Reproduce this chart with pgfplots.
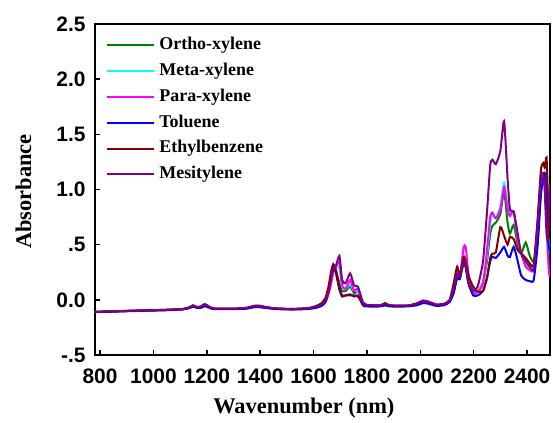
\documentclass[border=0pt]{standalone}
\usepackage{pgfplots}
\pgfplotsset{compat=1.18}
\usepackage{pgfplotstable}
\usepackage{fontspec}
\setmainfont{Liberation Serif}
\newfontfamily\arialf{Liberation Sans}
\definecolor{cGreen}{RGB}{0,128,0}
\definecolor{cCyan}{RGB}{0,255,255}
\definecolor{cMag}{RGB}{255,0,255}
\definecolor{cBlue}{RGB}{0,0,255}
\definecolor{cBrown}{RGB}{128,0,0}
\definecolor{cPurp}{RGB}{128,0,128}
\pgfplotstableread{
x     o      m      p      t      e      s
780  -0.110 -0.110 -0.110 -0.112 -0.108 -0.110
850  -0.105 -0.105 -0.105 -0.107 -0.103 -0.104
950  -0.098 -0.098 -0.098 -0.100 -0.096 -0.097
1050 -0.092 -0.092 -0.092 -0.094 -0.090 -0.090
1110 -0.085 -0.085 -0.085 -0.087 -0.083 -0.083
1135 -0.072 -0.072 -0.072 -0.075 -0.068 -0.068
1148 -0.055 -0.058 -0.058 -0.062 -0.050 -0.050
1162 -0.068 -0.068 -0.068 -0.072 -0.065 -0.065
1178 -0.065 -0.068 -0.068 -0.072 -0.062 -0.060
1192 -0.045 -0.050 -0.050 -0.058 -0.040 -0.038
1205 -0.060 -0.062 -0.062 -0.068 -0.058 -0.055
1225 -0.080 -0.080 -0.080 -0.084 -0.078 -0.078
1300 -0.082 -0.082 -0.082 -0.085 -0.080 -0.080
1350 -0.075 -0.076 -0.076 -0.080 -0.072 -0.072
1375 -0.060 -0.062 -0.062 -0.068 -0.056 -0.055
1395 -0.058 -0.060 -0.060 -0.066 -0.054 -0.052
1420 -0.068 -0.070 -0.070 -0.074 -0.066 -0.064
1460 -0.080 -0.080 -0.080 -0.084 -0.078 -0.078
1520 -0.085 -0.085 -0.085 -0.088 -0.082 -0.082
1580 -0.078 -0.080 -0.080 -0.083 -0.075 -0.076
1610 -0.065 -0.068 -0.068 -0.072 -0.055 -0.062
1630 -0.040 -0.045 -0.048 -0.055 -0.030 -0.040
1645 0.000 -0.010 -0.015 -0.020 0.020 -0.005
1656 0.090 0.070 0.050 0.080 0.120 0.070
1666 0.220 0.200 0.150 0.230 0.260 0.190
1674 0.290 0.300 0.250 0.320 0.320 0.280
1684 0.260 0.290 0.300 0.240 0.270 0.310
1697 0.150 0.290 0.340 0.090 0.110 0.400
1707 0.080 0.120 0.130 0.030 0.040 0.180
1720 0.080 0.100 0.100 0.040 0.040 0.150
1737 0.120 0.140 0.180 0.050 0.040 0.240
1752 0.060 0.080 0.080 0.030 0.040 0.130
1766 0.080 0.080 0.100 0.040 0.030 0.120
1785 -0.030 -0.030 -0.030 -0.050 -0.030 -0.020
1800 -0.050 -0.052 -0.052 -0.060 -0.048 -0.045
1850 -0.052 -0.054 -0.054 -0.060 -0.050 -0.050
1868 -0.035 -0.040 -0.040 -0.050 -0.030 -0.032
1885 -0.052 -0.054 -0.054 -0.060 -0.050 -0.050
1950 -0.055 -0.055 -0.055 -0.060 -0.052 -0.052
1985 -0.040 -0.040 -0.035 -0.050 -0.035 -0.035
2010 -0.015 -0.015 -0.005 -0.030 -0.012 -0.010
2030 -0.020 -0.020 -0.015 -0.035 -0.020 -0.018
2060 -0.045 -0.045 -0.045 -0.055 -0.045 -0.042
2090 -0.040 -0.040 -0.040 -0.048 -0.035 -0.038
2110 -0.010 -0.010 -0.012 -0.020 0.000 -0.005
2125 0.080 0.080 0.070 0.060 0.150 0.100
2138 0.200 0.230 0.220 0.200 0.300 0.240
2148 0.190 0.220 0.200 0.190 0.220 0.210
2162 0.320 0.400 0.470 0.370 0.390 0.350
2170 0.300 0.350 0.480 0.300 0.350 0.300
2180 0.200 0.160 0.250 0.150 0.220 0.160
2198 0.080 0.060 0.060 0.040 0.120 0.080
2215 0.070 0.070 0.070 0.040 0.075 0.120
2235 0.160 0.150 0.150 0.080 0.080 0.350
2250 0.350 0.400 0.450 0.200 0.200 0.800
2262 0.600 0.700 0.750 0.350 0.380 1.220
2270 0.670 0.770 0.790 0.390 0.420 1.270
2283 0.700 0.740 0.740 0.380 0.430 1.230
2300 0.780 0.850 0.820 0.430 0.660 1.350
2314 0.980 1.060 1.020 0.480 0.580 1.620
2327 0.700 0.850 0.820 0.400 0.500 1.100
2336 0.600 0.780 0.760 0.390 0.570 0.820
2350 0.680 0.800 0.800 0.480 0.550 0.800
2365 0.500 0.550 0.550 0.350 0.450 0.600
2378 0.420 0.420 0.420 0.220 0.420 0.420
2395 0.520 0.320 0.300 0.180 0.380 0.350
2410 0.400 0.280 0.270 0.170 0.330 0.300
2425 0.350 0.300 0.270 0.180 0.320 0.280
2440 0.600 0.600 0.600 0.500 0.750 0.700
2452 1.000 1.000 1.000 0.950 1.180 1.100
2461 1.100 1.080 1.050 1.100 1.240 1.150
2466 1.130 1.100 1.080 1.150 1.200 1.000
2473 0.900 1.000 0.950 1.050 1.290 0.600
2478 0.400 0.600 0.450 0.600 0.950 0.550
2482 0.450 0.500 0.250 0.470 0.700 0.900
2486 0.550 0.470 0.210 0.450 0.620 1.050
}\spectra
\begin{document}
\begin{tikzpicture}
\begin{axis}[
  scale only axis,
  width=455bp, height=331bp,
  xmin=781, xmax=2486, ymin=-0.5, ymax=2.5,
  axis line style={line width=2.5bp},
  xtick={800,1000,...,2400},
  xticklabels={800,1000,1200,1400,1600,1800,2000,2200,2400},
  ytick={-0.5,0,0.5,1,1.5,2,2.5},
  yticklabels={-.5,0.0,.5,1.0,1.5,2.0,2.5},
  xtick pos=left, ytick pos=left,
  tick align=inside,
  major tick length=5bp,
  tick style={line width=1.5bp, black},
  ticklabel style={font=\arialf\bfseries\fontsize{21}{21}\selectfont},
  xticklabel style={yshift=-10bp},
  yticklabel style={xshift=-6bp},
  xlabel={Wavenumber (nm)},
  ylabel={Absorbance},
  label style={font=\bfseries\fontsize{22.5}{24}\selectfont},
  xlabel style={at={(axis description cs:0.459,-0.16)}, anchor=center},
  ylabel style={at={(axis description cs:-0.157,0.494)}, anchor=center, rotate=0},
  legend style={draw=none, fill=none, at={(axis description cs:0.018,0.97)}, anchor=north west,
    font=\bfseries\fontsize{18}{20}\selectfont, row sep=7.3bp, column sep=3bp,
    nodes={inner sep=1bp, text height=12.5bp, text depth=4bp}},
  legend cell align=left,
  legend image code/.code={\draw[#1, line width=2bp] (0bp,0bp) -- (47bp,0bp);},
  every axis plot/.append style={line width=2bp, smooth, tension=0.35},
]
\addplot[cGreen] table[x=x, y=o] {\spectra};
\addlegendentry{Ortho-xylene}
\addplot[cCyan] table[x=x, y=m] {\spectra};
\addlegendentry{Meta-xylene}
\addplot[cMag] table[x=x, y=p] {\spectra};
\addlegendentry{Para-xylene}
\addplot[cBlue] table[x=x, y=t] {\spectra};
\addlegendentry{Toluene}
\addplot[cBrown] table[x=x, y=e] {\spectra};
\addlegendentry{Ethylbenzene}
\addplot[cPurp] table[x=x, y=s] {\spectra};
\addlegendentry{Mesitylene}
\end{axis}
\pgfresetboundingbox
\path[use as bounding box] ([xshift=-95bp,yshift=-68bp]current axis.south west) rectangle ([xshift=3bp,yshift=24bp]current axis.north east);
\end{tikzpicture}
\end{document}
